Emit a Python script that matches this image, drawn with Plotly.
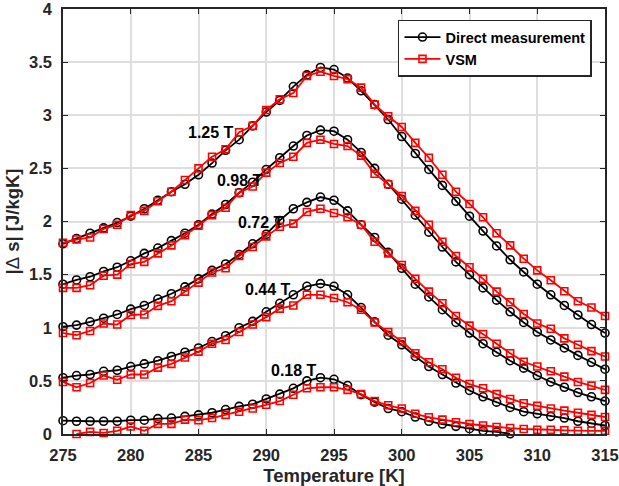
import plotly.graph_objects as go

# Temperature grid (K)
temp_full = list(range(275, 316))
temp_direct_018 = list(range(275, 309))
temp_vsm_018 = list(range(276, 316))

# |Δs| (J/kgK) from direct measurement
direct_125 = [1.79, 1.84, 1.89, 1.94, 1.99, 2.05, 2.12, 2.20, 2.28, 2.35,
              2.44, 2.55, 2.67, 2.77, 2.90, 3.03, 3.14, 3.27, 3.38, 3.45,
              3.43, 3.35, 3.23, 3.10, 2.96, 2.80, 2.64, 2.49, 2.34, 2.19,
              2.05, 1.91, 1.77, 1.64, 1.525, 1.41, 1.31, 1.21, 1.12, 1.03, 0.95]
direct_098 = [1.41, 1.45, 1.48, 1.53, 1.57, 1.63, 1.70, 1.75, 1.82, 1.89,
              1.97, 2.07, 2.16, 2.27, 2.37, 2.49, 2.60, 2.71, 2.81, 2.86,
              2.85, 2.77, 2.65, 2.50, 2.35, 2.21, 2.06, 1.90, 1.76, 1.62,
              1.50, 1.375, 1.26, 1.15, 1.05, 0.96, 0.885, 0.81, 0.74, 0.675, 0.61]
direct_072 = [1.01, 1.025, 1.056, 1.09, 1.125, 1.175, 1.21, 1.27, 1.32, 1.385,
              1.46, 1.54, 1.60, 1.69, 1.79, 1.88, 2.01, 2.12, 2.18, 2.23,
              2.20, 2.10, 1.97, 1.85, 1.71, 1.56, 1.41, 1.29, 1.17, 1.05,
              0.95, 0.85, 0.77, 0.69, 0.62, 0.55, 0.49, 0.44, 0.39, 0.35, 0.31]
direct_044 = [0.53, 0.55, 0.56, 0.59, 0.60, 0.635, 0.66, 0.69, 0.73, 0.77,
              0.81, 0.87, 0.925, 1.00, 1.06, 1.15, 1.23, 1.31, 1.39, 1.415,
              1.39, 1.31, 1.19, 1.056, 0.93, 0.84, 0.73, 0.635, 0.56, 0.48,
              0.41, 0.35, 0.30, 0.25, 0.21, 0.19, 0.166, 0.15, 0.12, 0.10, 0.08]
direct_018 = [0.125, 0.12, 0.12, 0.12, 0.12, 0.13, 0.13, 0.145, 0.15, 0.166,
              0.18, 0.20, 0.23, 0.26, 0.28, 0.33, 0.375, 0.43, 0.50, 0.53,
              0.515, 0.456, 0.37, 0.30, 0.24, 0.21, 0.16, 0.12, 0.094, 0.072,
              0.05, 0.03, 0.02, 0.002]

# |Δs| (J/kgK) derived from VSM magnetization data
vsm_125 = [1.80, 1.83, 1.85, 1.93, 1.97, 2.06, 2.10, 2.19, 2.28, 2.39,
           2.50, 2.61, 2.68, 2.84, 2.90, 3.05, 3.15, 3.21, 3.37, 3.41,
           3.37, 3.34, 3.26, 3.10, 2.99, 2.89, 2.74, 2.60, 2.44, 2.28,
           2.165, 2.04, 1.89, 1.775, 1.65, 1.54, 1.447, 1.344, 1.25, 1.19, 1.11]
vsm_098 = [1.375, 1.375, 1.40, 1.49, 1.50, 1.60, 1.62, 1.70, 1.775, 1.87,
           1.96, 2.06, 2.13, 2.27, 2.33, 2.46, 2.55, 2.61, 2.74, 2.77,
           2.73, 2.71, 2.62, 2.45, 2.35, 2.24, 2.10, 1.97, 1.81, 1.675,
           1.57, 1.46, 1.34, 1.24, 1.13, 1.04, 0.99, 0.90, 0.84, 0.78, 0.73]
vsm_072 = [0.95, 0.93, 0.97, 1.04, 1.03, 1.12, 1.125, 1.206, 1.25, 1.34,
           1.425, 1.52, 1.56, 1.675, 1.76, 1.86, 1.95, 1.98, 2.09, 2.12,
           2.08, 2.04, 1.97, 1.81, 1.70, 1.59, 1.46, 1.34, 1.23, 1.11,
           1.02, 0.94, 0.85, 0.76, 0.68, 0.635, 0.59, 0.54, 0.49, 0.455, 0.415]
vsm_044 = [0.49, 0.44, 0.48, 0.55, 0.51, 0.56, 0.56, 0.625, 0.66, 0.72,
           0.775, 0.85, 0.885, 0.96, 1.03, 1.10, 1.18, 1.21, 1.31, 1.31,
           1.28, 1.24, 1.17, 1.05, 0.96, 0.87, 0.76, 0.675, 0.61, 0.53,
           0.47, 0.43, 0.375, 0.33, 0.29, 0.265, 0.24, 0.22, 0.20, 0.18, 0.16]
vsm_018 = [0.0, 0.02, 0.01, 0.03, 0.07, 0.03, 0.095, 0.095, 0.135,
           0.13, 0.15, 0.18, 0.21, 0.24, 0.275, 0.31, 0.37, 0.43, 0.44,
           0.44, 0.415, 0.375, 0.31, 0.27, 0.24, 0.19, 0.157, 0.135, 0.11,
           0.094, 0.08, 0.066, 0.056, 0.047, 0.04, 0.04, 0.035, 0.03, 0.03, 0.03]

# Field labels and where they sit (left edge x, centre y)
field_labels = ["1.25 T", "0.98 T", "0.72 T", "0.44 T", "0.18 T"]
label_x = [284.1, 286.2, 287.8, 288.3, 290.2]
label_y = [2.84, 2.39, 1.99, 1.36, 0.60]

x_ticks = [275, 280, 285, 290, 295, 300, 305, 310, 315]
y_ticks = [0, 0.5, 1, 1.5, 2, 2.5, 3, 3.5, 4]

direct_sets = [(temp_full, direct_125), (temp_full, direct_098), (temp_full, direct_072),
               (temp_full, direct_044), (temp_direct_018, direct_018)]
vsm_sets = [(temp_full, vsm_125), (temp_full, vsm_098), (temp_full, vsm_072),
            (temp_full, vsm_044), (temp_vsm_018, vsm_018)]

FONT = "Liberation Sans, Arial, Helvetica, sans-serif"
TEXT = "#262626"

fig = go.Figure()

for i, ((tx, ty), (vx, vy)) in enumerate(zip(direct_sets, vsm_sets)):
    fig.add_trace(go.Scatter(
        x=tx, y=ty, mode="lines+markers", name="Direct measurement",
        showlegend=(i == 0), cliponaxis=False,
        line=dict(color="black", width=1.8),
        marker=dict(symbol="circle-open", size=8, color="black",
                    line=dict(width=1.6, color="black")),
    ))
    fig.add_trace(go.Scatter(
        x=vx, y=vy, mode="lines+markers", name="VSM",
        showlegend=(i == 0), cliponaxis=False,
        line=dict(color="#ff0000", width=1.8),
        marker=dict(symbol="square-open", size=7, color="#ff0000",
                    line=dict(width=1.6, color="#ff0000")),
    ))

for txt, lx, ly in zip(field_labels, label_x, label_y):
    fig.add_annotation(x=lx, y=ly, text=f"<b>{txt}</b>", showarrow=False,
                       xanchor="left", yanchor="middle",
                       font=dict(family=FONT, size=16, color="black"))

axis_common = dict(
    showgrid=True, gridcolor="#dedede", gridwidth=1.7,
    showline=True, linecolor=TEXT, linewidth=1.6, mirror="ticks",
    ticks="inside", ticklen=5, tickwidth=1.3, tickcolor=TEXT,
    zeroline=False, ticklabeloverflow="allow",
    tickfont=dict(family=FONT, size=16.5, color=TEXT, weight="bold"),
)

fig.update_xaxes(
    range=[275, 315], tickvals=x_ticks, ticktext=[str(v) for v in x_ticks],
    title=dict(text="Temperature [K]", standoff=8,
               font=dict(family=FONT, size=18.5, color=TEXT, weight="bold")),
    ticklabelstandoff=5,
    **axis_common,
)
fig.update_yaxes(
    range=[0, 4], tickvals=y_ticks, ticktext=[f"{v:g}" for v in y_ticks],
    title=dict(text="|<span style='font-weight:normal'>Δ</span> s| [J/kgK]", standoff=4,
               font=dict(family=FONT, size=18.5, color=TEXT, weight="bold")),
    ticklabelstandoff=6,
    **axis_common,
)

fig.update_layout(
    width=619, height=486,
    margin=dict(l=63, r=14, t=9, b=52, autoexpand=False),
    plot_bgcolor="white", paper_bgcolor="white",
    legend=dict(
        x=0.976, y=0.975, xanchor="right", yanchor="top",
        bgcolor="white", bordercolor=TEXT, borderwidth=1.5,
        font=dict(family=FONT, size=14.5, color="black", weight="bold"),
        itemwidth=36, tracegroupgap=0,
    ),
)

fig.write_html("out.html")
